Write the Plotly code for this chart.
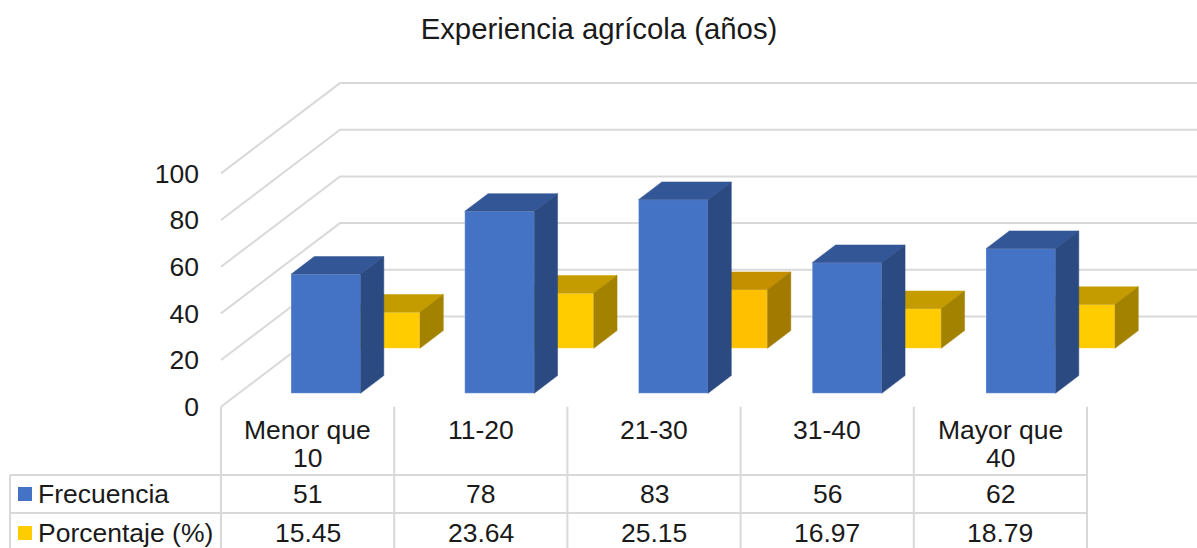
import plotly.graph_objects as go

TITLE = "Experiencia agrícola (años)"
CATEGORIES = ["Menor que<br>10", "11-20", "21-30", "31-40", "Mayor que<br>40"]
FRECUENCIA = [51, 78, 83, 56, 62]
PORCENTAJE = [15.45, 23.64, 25.15, 16.97, 18.79]
Y_TICKS = [0, 20, 40, 60, 80, 100]
SERIES_NAMES = ["Frecuencia", "Porcentaje (%)"]

W, H = 1197, 548
FONT = "Liberation Sans, Arial, sans-serif"
FS = 26.5
TEXT = "#1a1a1a"
GRID = "#d9d9d9"
BLUE_FRONT, BLUE_TOP, BLUE_SIDE = "#4472c4", "#335696", "#2b4a82"
YEL_FRONT = ["#ffcc00", "#ffcc00", "#ffc000", "#ffcc00", "#ffcc00"]
YEL_TOP = ["#c49c00", "#c49c00", "#c49000", "#c49c00", "#c49c00"]
YEL_SIDE = ["#a38200", "#a38200", "#a37a00", "#a38200", "#a38200"]

# scales
X0_PX, Y0_PX = 221.0, 406.7
PX_X = 173.75          # px per category
PX_Y = 2.333           # px per value unit
X_RANGE = [-X0_PX / PX_X, (W - X0_PX) / PX_X]
Y_RANGE = [-(H - Y0_PX) / PX_Y, Y0_PX / PX_Y]
COL_STEP = 173.2 / PX_X

BAR_W = 69.5 / PX_X
DEPTH_X, DEPTH_Y = 23.3 / PX_X, 17.7 / PX_Y
WALL_X, WALL_Y = 119 / PX_X, 90.3 / PX_Y

BLUE_CX = (325.75 - X0_PX) / PX_X
BLUE_BASE = (Y0_PX - 393.3) / PX_Y
YEL_CX = (385.25 - X0_PX) / PX_X
YEL_BASE = (Y0_PX - 348.3) / PX_Y


def px(x):
    return x / W


def py(y):
    return 1 - y / H


fig = go.Figure()
shapes = []
line = dict(color=GRID, width=2)

# walls (below every trace)
for v in Y_TICKS:
    shapes.append(dict(type="path", xref="x", yref="y", layer="below", line=line,
                       path=f"M 0 {v} L {WALL_X} {v + WALL_Y} L {X_RANGE[1]} {v + WALL_Y}"))


def add_bar(values, cx, base, front, top, side, name, xa, ya):
    xs = [i + cx for i in range(len(values))]
    fig.add_trace(go.Bar(
        x=xs, y=values, base=[base] * len(values), width=BAR_W, name=name,
        marker=dict(color=front, line=dict(color="rgba(255,255,255,0.3)", width=1)),
        hoverinfo="skip", showlegend=False, xaxis=xa, yaxis=ya))
    for i, (xc, v) in enumerate(zip(xs, values)):
        l, r = xc - BAR_W / 2, xc + BAR_W / 2
        t, b = base + v, base
        c_top = top[i] if isinstance(top, list) else top
        c_side = side[i] if isinstance(side, list) else side
        fig.add_trace(go.Scatter(
            x=[l, r, r + DEPTH_X, l + DEPTH_X, l],
            y=[t, t, t + DEPTH_Y, t + DEPTH_Y, t],
            mode="lines", fill="toself", fillcolor=c_top,
            line=dict(color=c_top, width=0.5), hoverinfo="skip",
            showlegend=False, xaxis=xa, yaxis=ya))
        fig.add_trace(go.Scatter(
            x=[r, r + DEPTH_X, r + DEPTH_X, r, r],
            y=[t, t + DEPTH_Y, b + DEPTH_Y, b, t],
            mode="lines", fill="toself", fillcolor=c_side,
            line=dict(color=c_side, width=0.5), hoverinfo="skip",
            showlegend=False, xaxis=xa, yaxis=ya))


add_bar(PORCENTAJE, YEL_CX, YEL_BASE, YEL_FRONT, YEL_TOP, YEL_SIDE, SERIES_NAMES[1], "x", "y")
add_bar(FRECUENCIA, BLUE_CX, BLUE_BASE, BLUE_FRONT, BLUE_TOP, BLUE_SIDE, SERIES_NAMES[0], "x2", "y2")

# data table
col_px = [X0_PX + i * COL_STEP * PX_X for i in range(len(CATEGORIES) + 1)]
for x in col_px:
    shapes.append(dict(type="line", xref="paper", yref="paper", x0=px(x), x1=px(x),
                       y0=py(406.7), y1=0, line=line))
shapes.append(dict(type="line", xref="paper", yref="paper", x0=px(10), x1=px(10),
                   y0=py(475), y1=0, line=line))
for y in (475, 513):
    shapes.append(dict(type="line", xref="paper", yref="paper", x0=px(10), x1=px(col_px[-1]),
                       y0=py(y), y1=py(y), line=line))
for color, y0, y1 in ((BLUE_FRONT, 487, 501), (YEL_FRONT[0], 526, 540)):
    shapes.append(dict(type="rect", xref="paper", yref="paper", x0=px(18), x1=px(32),
                       y0=py(y0), y1=py(y1), fillcolor=color, line=dict(width=0)))

ann = []


def txt(text, x, y, anchor="center", yanchor="middle"):
    ann.append(dict(text=text, x=px(x), y=py(y), xref="paper", yref="paper",
                    xanchor=anchor, yanchor=yanchor, showarrow=False, align="center",
                    font=dict(family=FONT, size=FS, color=TEXT)))


for i, cat in enumerate(CATEGORIES):
    cx = (col_px[i] + col_px[i + 1]) / 2
    for k, part in enumerate(cat.split("<br>")):
        txt(part, cx, 430 + 28 * k)
    txt(str(FRECUENCIA[i]), cx, 494)
    txt(f"{PORCENTAJE[i]:.2f}", cx, 533)
txt(SERIES_NAMES[0], 35.5, 494, anchor="left")
txt(SERIES_NAMES[1], 35.5, 533, anchor="left")

axis_off = dict(visible=False, showgrid=False, zeroline=False)
fig.update_layout(
    width=W, height=H, autosize=False,
    margin=dict(l=0, r=0, t=0, b=0),
    paper_bgcolor="white", plot_bgcolor="rgba(0,0,0,0)",
    barmode="overlay", showlegend=False,
    title=dict(text=TITLE, x=599 / W, xanchor="center", y=py(29), yanchor="middle",
               font=dict(family=FONT, size=29.3, color=TEXT)),
    xaxis=dict(range=X_RANGE, domain=[0, 1], fixedrange=True, **axis_off),
    yaxis=dict(range=Y_RANGE, domain=[0, 1], fixedrange=True,
               anchor="free", position=X0_PX / W,
               tickmode="array", tickvals=Y_TICKS, ticktext=[str(v) for v in Y_TICKS],
               ticks="", ticklabelstandoff=22, ticklabelshift=0, showline=False,
               showgrid=False, zeroline=False,
               tickfont=dict(family=FONT, size=FS, color=TEXT)),
    xaxis2=dict(range=X_RANGE, overlaying="x", anchor="y2", fixedrange=True, **axis_off),
    yaxis2=dict(range=Y_RANGE, overlaying="y", anchor="x2", fixedrange=True, **axis_off),
    shapes=shapes, annotations=ann,
)
fig.write_html("out.html", config={"displayModeBar": False},
               post_script="document.body.style.margin='0';document.documentElement.style.overflow='hidden';")
